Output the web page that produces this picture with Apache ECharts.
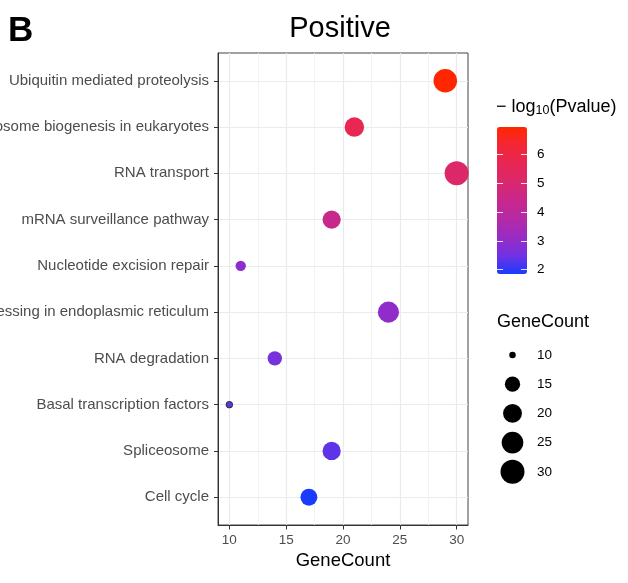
<!DOCTYPE html>
<html><head><meta charset="utf-8">
<script src="https://cdn.jsdelivr.net/npm/echarts@6/dist/echarts.min.js"></script>
<style>html,body{margin:0;padding:0;background:#fff}#c{width:628px;height:583px}</style>
</head><body><div id="c"></div>
<script>
const categories = ['Ubiquitin mediated proteolysis','Ribosome biogenesis in eukaryotes','RNA transport','mRNA surveillance pathway','Nucleotide excision repair','Protein processing in endoplasmic reticulum','RNA degradation','Basal transcription factors','Spliceosome','Cell cycle'];
const geneCount = [29, 21, 30, 19, 11, 24, 14, 10, 19, 17];
const negLog10P = [6.94, 5.7, 5.16, 4.4, 2.9, 3.0, 2.6, 2.35, 2.35, 1.85];
const xTicks = [10, 15, 20, 25, 30];
const xMinorGrid = [12.5, 17.5, 22.5, 27.5];
const colorTicks = [2, 3, 4, 5, 6];
const sizeLegendValues = [10, 15, 20, 25, 30];
const palette = ['#1a3cff','#7032e2','#982cc4','#b42aa6','#c8288b','#d9286e','#e72753','#f42636','#ff2600'];

const FONT = "'Liberation Sans', Arial, Helvetica, sans-serif";
const cMin = Math.min(...geneCount), cMax = Math.max(...geneCount);
const pMin = Math.min(...negLog10P), pMax = Math.max(...negLog10P);
const xPad = (cMax - cMin) * 0.05;
const sizeOf = c => 6.5 + 17.5 * Math.sqrt(Math.max(0, (c - cMin) / (cMax - cMin)));
const yIdx = categories.map((_, i) => i + 1);

const chart = echarts.init(document.getElementById('c'), null, {renderer: 'canvas'});
const tickStyleWhite = {color: 'rgba(255,255,255,0.85)', width: 1};

chart.setOption({
  animation: false,
  backgroundColor: '#fff',
  textStyle: {fontFamily: FONT},
  grid: [
    {left: 218, top: 53, width: 250, height: 472, show: true, borderColor: '#444', borderWidth: 1, containLabel: false, outerBoundsMode: 'none'},
    {left: 497, top: 127, width: 30, height: 147, containLabel: false, outerBoundsMode: 'none'},
    {left: 500, top: 340.4, width: 25, height: 146, containLabel: false, outerBoundsMode: 'none'}
  ],
  xAxis: [
    {gridIndex: 0, type: 'value', min: cMin - xPad, max: cMax + xPad,
     axisLine: {show: true, onZero: false, lineStyle: {color: '#333', width: 1}},
     axisTick: {show: true, length: 4.5, customValues: xTicks, lineStyle: {color: '#333'}},
     axisLabel: {customValues: xTicks, fontSize: 13.5, color: '#4d4d4d', margin: 8, fontFamily: FONT},
     splitLine: {show: true, lineStyle: {color: '#ebebeb', width: 1.2}},
     name: 'GeneCount', nameLocation: 'middle', nameGap: 26,
     nameTextStyle: {fontSize: 18.5, color: '#000', fontFamily: FONT}},
    {gridIndex: 1, type: 'value', show: false, min: 0, max: 1},
    {gridIndex: 2, type: 'value', show: false, min: 0, max: 1}
  ],
  yAxis: [
    {gridIndex: 0, type: 'value', inverse: true, min: 0.4, max: categories.length + 0.6,
     axisLine: {show: true, onZero: false, lineStyle: {color: '#333', width: 1}},
     axisTick: {show: true, length: 4, customValues: yIdx, lineStyle: {color: '#333'}},
     axisLabel: {customValues: yIdx, formatter: v => categories[Math.round(v) - 1] || '',
                 fontSize: 15, color: '#4d4d4d', margin: 9, fontFamily: FONT},
     splitLine: {show: true, lineStyle: {color: '#ebebeb', width: 1.2}}},
    {gridIndex: 1, type: 'value', min: pMin, max: pMax, position: 'left', z: 10,
     axisLine: {show: false}, splitLine: {show: false}, axisLabel: {show: false},
     axisTick: {show: true, inside: true, length: 6, customValues: colorTicks, lineStyle: tickStyleWhite}},
    {gridIndex: 1, type: 'value', min: pMin, max: pMax, position: 'right', z: 10,
     axisLine: {show: false}, splitLine: {show: false},
     axisLabel: {show: true, customValues: colorTicks, fontSize: 13.5, color: '#000', margin: 10, fontFamily: FONT},
     axisTick: {show: true, inside: true, length: 6, customValues: colorTicks, lineStyle: tickStyleWhite}},
    {gridIndex: 2, type: 'category', inverse: true, position: 'right', data: sizeLegendValues.map(String),
     axisLine: {show: false}, axisTick: {show: false}, splitLine: {show: false},
     axisLabel: {fontSize: 13.5, color: '#000', margin: 12, fontFamily: FONT}}
  ],
  visualMap: {
    type: 'continuous', min: pMin, max: pMax, dimension: 2, seriesIndex: 0,
    calculable: false, show: true, left: 497, top: 127, itemWidth: 30, itemHeight: 147,
    padding: 0, text: null, hoverLink: false, inRange: {color: palette}
  },
  series: [
    {type: 'scatter', xAxisIndex: 0, yAxisIndex: 0, z: 3,
     data: categories.map((name, i) => {
       const d = {name, value: [geneCount[i], yIdx[i], negLog10P[i]]};
       if (geneCount[i] === cMin) d.itemStyle = {borderColor: '#2a2a2a', borderWidth: 1};
       return d;
     }),
     symbol: 'circle', symbolSize: v => sizeOf(v[0]), itemStyle: {opacity: 1}},
    {type: 'line', xAxisIndex: 0, yAxisIndex: 0, z: 1, data: [],
     markLine: {silent: true, z: 1, symbol: ['none', 'none'], label: {show: false}, animation: false,
       lineStyle: {color: '#f2f2f2', width: 0.9, type: 'solid'},
       emphasis: {disabled: true},
       data: xMinorGrid.map(v => ({xAxis: v}))}},
    {type: 'scatter', xAxisIndex: 2, yAxisIndex: 3, z: 3, symbol: 'circle',
     data: sizeLegendValues.map(v => [0.5, String(v), v]),
     symbolSize: v => sizeOf(v[2]), itemStyle: {color: '#000', opacity: 1}}
  ],
  graphic: [
    {type: 'text', x: 8, y: 31, style: {text: 'B', font: 'bold 35px ' + FONT, fill: '#000', align: 'left', verticalAlign: 'middle'}},
    {type: 'text', x: 340, y: 28.5, style: {text: 'Positive', font: '29px ' + FONT, fill: '#000', align: 'center', verticalAlign: 'middle'}},
    {type: 'text', x: 496, y: 106.6, style: {
      text: '{a|− log}{s|10}{a|(Pvalue)}', align: 'left', verticalAlign: 'middle', fill: '#000',
      rich: {a: {fontSize: 18, fontFamily: FONT, lineHeight: 20, verticalAlign: 'middle', fill: '#000'},
             s: {fontSize: 12.5, fontFamily: FONT, lineHeight: 12, verticalAlign: 'bottom', fill: '#000'}}}},
    {type: 'text', x: 497, y: 322, style: {text: 'GeneCount', font: '18px ' + FONT, fill: '#000', align: 'left', verticalAlign: 'middle'}}
  ]
});
</script></body></html>
